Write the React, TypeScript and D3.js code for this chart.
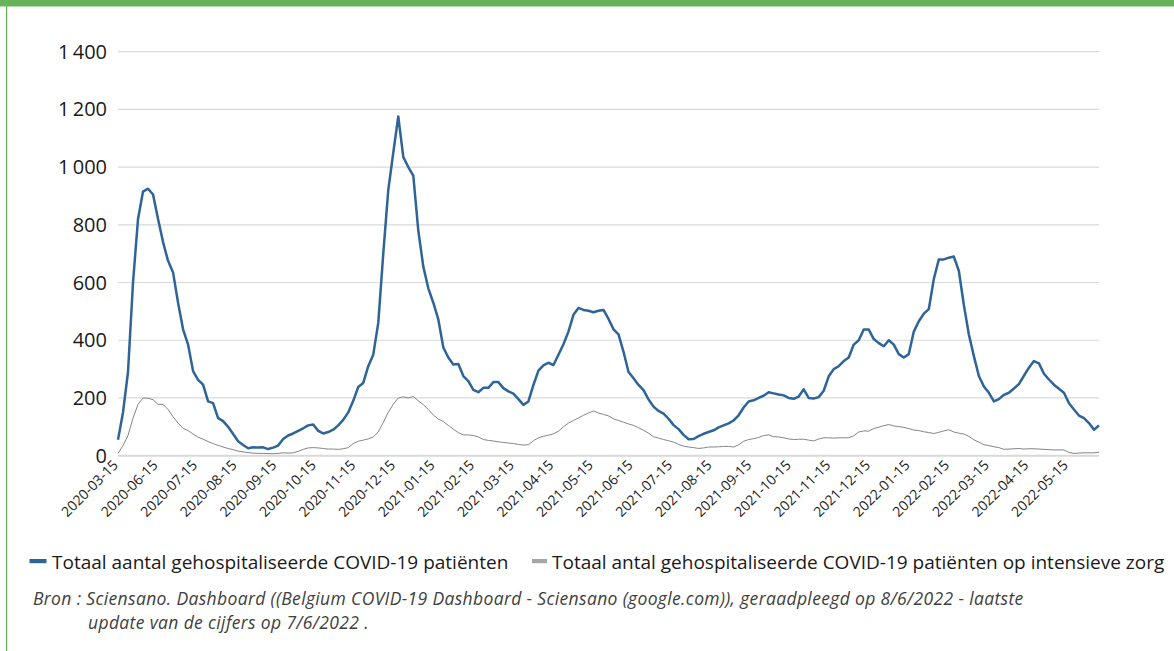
import * as d3 from 'd3'

// Readings every ~4 days from 2020-03-15 to 2022-06-07
const hospitalised = [
  55, 150, 290, 600, 820, 915, 925, 905, 820, 740, 675, 635, 530, 438, 385, 293, 263, 246, 188, 182,
  130, 120, 100, 75, 50, 37, 26, 29, 28, 29, 23, 28, 35, 58, 70, 77, 86, 95, 105, 108,
  86, 77, 82, 90, 105, 124, 150, 190, 238, 252, 310, 350, 460, 700, 920, 1050, 1175, 1035, 1000, 970,
  780, 655, 580, 530, 472, 375, 340, 316, 318, 276, 258, 228, 220, 235, 235, 255, 255, 234, 223, 215,
  196, 176, 188, 245, 295, 313, 322, 314, 350, 386, 430, 488, 512, 505, 502, 497, 502, 505, 474, 438,
  420, 360, 290, 268, 245, 227, 195, 170, 155, 146, 128, 106, 92, 72, 57, 58, 68, 76, 82, 88,
  98, 105, 112, 122, 140, 167, 188, 192, 200, 208, 220, 216, 212, 209, 200, 197, 205, 230, 200, 198,
  203, 225, 275, 300, 310, 328, 340, 385, 400, 437, 437, 404, 390, 379, 400, 385, 352, 340, 352, 430,
  466, 492, 508, 612, 680, 680, 686, 690, 640, 522, 420, 345, 276, 240, 218, 188, 196, 211, 218, 233,
  248, 277, 305, 328, 320, 284, 264, 246, 232, 218, 182, 160, 139, 130, 113, 90, 105,
]

const intensiveCare = [
  8, 35, 70, 130, 178, 200, 199, 194, 178, 178, 160, 135, 113, 95, 87, 75, 64, 57, 49, 42,
  36, 30, 25, 21, 16, 13, 11, 9, 8, 8, 7, 7, 8, 10, 9, 10, 15, 22, 27, 28,
  27, 25, 23, 23, 22, 24, 28, 42, 50, 54, 58, 65, 82, 115, 150, 178, 200, 204, 200, 205,
  190, 177, 160, 141, 127, 118, 105, 92, 80, 72, 72, 70, 65, 56, 53, 51, 48, 46, 44, 42,
  39, 37, 38, 52, 62, 67, 71, 76, 85, 100, 113, 122, 131, 140, 148, 155, 148, 143, 138, 128,
  122, 116, 110, 105, 97, 88, 78, 66, 61, 56, 52, 47, 39, 33, 30, 28, 25, 27, 30, 30,
  31, 32, 32, 30, 38, 50, 56, 59, 63, 70, 72, 66, 65, 62, 58, 56, 57, 57, 54, 51,
  58, 62, 62, 61, 62, 62, 62, 69, 82, 86, 85, 94, 99, 104, 108, 103, 101, 98, 94, 89,
  87, 83, 80, 77, 81, 86, 90, 82, 78, 75, 67, 55, 47, 38, 35, 31, 28, 22, 23, 24,
  25, 23, 24, 24, 23, 22, 21, 20, 20, 20, 11, 8, 9, 10, 10, 10, 12,
]

const xLabels = [
  '2020-03-15', '2020-06-15', '2020-07-15', '2020-08-15', '2020-09-15', '2020-10-15', '2020-11-15',
  '2020-12-15', '2021-01-15', '2021-02-15', '2021-03-15', '2021-04-15', '2021-05-15', '2021-06-15',
  '2021-07-15', '2021-08-15', '2021-09-15', '2021-10-15', '2021-11-15', '2021-12-15', '2022-01-15',
  '2022-02-15', '2022-03-15', '2022-04-15', '2022-05-15',
]

const yTicks = [0, 200, 400, 600, 800, 1000, 1200, 1400]

const legendLabels = [
  'Totaal aantal gehospitaliseerde COVID-19 patiënten',
  'Totaal antal gehospitaliseerde COVID-19 patiënten op intensieve zorg',
]

const sourceLines = [
  'Bron : Sciensano. Dashboard ((Belgium COVID-19 Dashboard - Sciensano (google.com)), geraadpleegd op 8/6/2022 - laatste',
  'update van de cijfers op 7/6/2022 .',
]

const BLUE = '#2e6497'
const GREY = '#858585'
const GREEN = '#66b35a'
const FONT = '"Open Sans", sans-serif'

export default function App() {
  const width = 1174
  const height = 651

  const x = d3.scaleLinear().domain([0, hospitalised.length - 1]).range([118, 1099])
  const y = d3.scaleLinear().domain([0, 1400]).range([455.7, 51.6])
  const xTick = d3.scalePoint<string>().domain(xLabels).range([118, 1068])

  const line = d3.line<number>()
    .x((_, i) => x(i))
    .y(d => y(d))

  // "1 400" style thousands with a thin space
  const fmt = d3.formatLocale({
    decimal: ',',
    thousands: '\u2009',
    grouping: [3],
    currency: ['', ' €'],
  }).format(',d')

  return (
    <svg
      width={width}
      height={height}
      style={{ position: 'absolute', left: 0, top: 0, background: '#fff' }}
      fontFamily={FONT}
    >
      <rect x={0} y={0} width={width} height={height} fill="#fff" />
      <rect x={0} y={0} width={width} height={6.5} fill={GREEN} />
      <rect x={6} y={0} width={1.2} height={height} fill={GREEN} />

      {/* gridlines + y labels */}
      {yTicks.map(t => (
        <g key={t}>
          <line
            x1={x(0)}
            x2={x.range()[1]}
            y1={y(t)}
            y2={y(t)}
            stroke="#d9d9d9"
            strokeWidth={t === 0 ? 2 : 1.2}
          />
          <text
            x={107}
            y={y(t)}
            dy="0.35em"
            textAnchor="end"
            fontSize={20}
            fill="#1a1a1a"
          >
            {fmt(t)}
          </text>
        </g>
      ))}

      {/* x labels */}
      {xLabels.map(d => (
        <text
          key={d}
          transform={`translate(${(xTick(d) ?? 0) + 1},466) rotate(-45)`}
          textAnchor="end"
          fontSize={14}
          fill="#1a1a1a"
        >
          {d}
        </text>
      ))}

      <path d={line(intensiveCare) ?? ''} fill="none" stroke={GREY} strokeWidth={1} strokeLinejoin="round" />
      <path d={line(hospitalised) ?? ''} fill="none" stroke={BLUE} strokeWidth={2.5} strokeLinejoin="round" />

      {/* legend */}
      <rect x={29.5} y={559} width={17} height={4.2} fill={BLUE} />
      <text x={52} y={569} fontSize={19} fill="#1a1a1a">{legendLabels[0]}</text>
      <rect x={532} y={559} width={15} height={4.2} fill="#a6a6a6" />
      <text x={552} y={569} fontSize={19} fill="#1a1a1a">{legendLabels[1]}</text>

      {/* source */}
      <text x={33} y={605} fontSize={17.5} letterSpacing={0.35} fontStyle="italic" fill="#404040">{sourceLines[0]}</text>
      <text x={88} y={629} fontSize={17.5} letterSpacing={0.35} fontStyle="italic" fill="#404040">{sourceLines[1]}</text>
    </svg>
  )
}
